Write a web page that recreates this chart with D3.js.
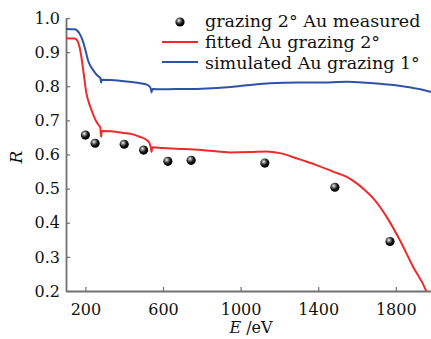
<!DOCTYPE html>
<html>
<head>
<meta charset="utf-8">
<script src="https://cdn.jsdelivr.net/npm/d3@7"></script>
<style>
  body { margin: 0; background: #fff; }
  svg { display: block; font-family: 'DejaVu Serif', serif; }
</style>
</head>
<body>
<svg class="chart"></svg>
<script>
//Data
const measuredE = [200, 250, 400, 500, 625, 745, 1125, 1486, 1770];
const measuredR = [0.657, 0.633, 0.630, 0.613, 0.580, 0.583, 0.575, 0.504, 0.345];

const fittedE = [100, 145, 158, 167, 179, 191, 205, 218, 231, 244, 257, 270, 277, 281, 284,
  330, 400, 445, 480, 514, 530, 538, 541, 545, 600, 669, 800, 900, 944, 1050, 1133, 1202,
  1288, 1391, 1476, 1545, 1597, 1640, 1683, 1752, 1820, 1889, 1958, 1975];
const fittedR = [0.941, 0.940, 0.934, 0.921, 0.887, 0.838, 0.780, 0.752, 0.731, 0.712, 0.696,
  0.685, 0.679, 0.652, 0.669, 0.668, 0.663, 0.659, 0.652, 0.643, 0.634, 0.618, 0.607, 0.621,
  0.619, 0.617, 0.613, 0.608, 0.606, 0.607, 0.609, 0.604, 0.589, 0.569, 0.550, 0.535, 0.516,
  0.496, 0.472, 0.418, 0.350, 0.271, 0.198, 0.170];

const simulatedE = [100, 145, 160, 172, 185, 196, 205, 213, 225, 239, 252, 265, 277, 281, 284,
  330, 400, 470, 510, 530, 538, 541, 545, 600, 700, 800, 950, 1050, 1150, 1300, 1400, 1550,
  1650, 1720, 1800, 1860, 1920, 1980, 2000];
const simulatedR = [0.968, 0.967, 0.962, 0.952, 0.935, 0.915, 0.895, 0.877, 0.861, 0.848,
  0.838, 0.830, 0.824, 0.811, 0.819, 0.818, 0.815, 0.810, 0.806, 0.800, 0.791, 0.782, 0.792,
  0.791, 0.792, 0.793, 0.798, 0.804, 0.809, 0.811, 0.811, 0.813, 0.810, 0.807, 0.803, 0.798,
  0.792, 0.784, 0.782];

const xTicks = [200, 600, 1000, 1400, 1800];
const yTicks = [0.2, 0.3, 0.4, 0.5, 0.6, 0.7, 0.8, 0.9, 1.0];

const legendLabels = ['grazing 2° Au measured', 'fitted Au grazing 2°', 'simulated Au grazing 1°'];

const width = 431;
const height = 339;
const axisColor = '#707070';
const red = '#ee2a2a';
const blue = '#2d52a8';

const svg = d3.select('.chart').attr('width', width).attr('height', height);

const x = d3.scaleLinear().domain([100, 2000]).range([66, 434.6]);
const y = d3.scaleLinear().domain([0.2, 1.0]).range([291, 18]);

//Sphere gradient for markers
const defs = svg.append('defs');
const grad = defs.append('radialGradient')
  .attr('id', 'ball')
  .attr('cx', '38%').attr('cy', '35%').attr('r', '65%');
grad.append('stop').attr('offset', '0%').attr('stop-color', '#ffffff');
grad.append('stop').attr('offset', '25%').attr('stop-color', '#8a8a8a');
grad.append('stop').attr('offset', '60%').attr('stop-color', '#161616');
grad.append('stop').attr('offset', '100%').attr('stop-color', '#000000');

defs.append('clipPath').attr('id', 'plot')
  .append('rect')
  .attr('x', 66).attr('y', 0)
  .attr('width', width - 66).attr('height', 291);

//Axes
const xAxis = svg.append('g')
  .attr('transform', 'translate(0,291)')
  .call(d3.axisBottom(x).tickValues(xTicks).tickSizeInner(-4).tickSizeOuter(0)
    .tickPadding(13).tickFormat(d3.format('d')));
const yAxis = svg.append('g')
  .attr('transform', 'translate(66,0)')
  .call(d3.axisLeft(y).tickValues(yTicks).tickSizeInner(-4).tickSizeOuter(0)
    .tickPadding(6).tickFormat(d3.format('.1f')));

[xAxis, yAxis].forEach(g => {
  g.select('.domain').attr('stroke', axisColor).attr('stroke-width', 1.8);
  g.selectAll('.tick line').attr('stroke', axisColor).attr('stroke-width', 1.2);
  g.selectAll('.tick text')
    .attr('fill', '#111')
    .style('font-family', "'DejaVu Serif', serif")
    .style('font-size', '16px');
});

//Axis titles
svg.append('text')
  .attr('transform', 'translate(22,157) rotate(-90)')
  .attr('text-anchor', 'middle')
  .style('font-size', '17px')
  .style('font-style', 'italic')
  .attr('fill', '#111')
  .text('R');

const xt = svg.append('text')
  .attr('x', 251).attr('y', 333)
  .attr('text-anchor', 'middle')
  .style('font-size', '16px')
  .attr('fill', '#111');
xt.append('tspan').style('font-style', 'italic').text('E');
xt.append('tspan').text(' /eV');

//Lines
const line = d3.line()
  .x(d => x(d[0]))
  .y(d => y(d[1]))
  .curve(d3.curveMonotoneX);

const plot = svg.append('g').attr('clip-path', 'url(#plot)');

plot.append('path')
  .datum(simulatedE.map((e, i) => [e, simulatedR[i]]))
  .attr('d', line)
  .attr('fill', 'none')
  .attr('stroke', blue)
  .attr('stroke-width', 2);

plot.append('path')
  .datum(fittedE.map((e, i) => [e, fittedR[i]]))
  .attr('d', line)
  .attr('fill', 'none')
  .attr('stroke', red)
  .attr('stroke-width', 2);

plot.selectAll('circle')
  .data(measuredE.map((e, i) => [e, measuredR[i]]))
  .enter()
  .append('circle')
  .attr('cx', d => x(d[0]))
  .attr('cy', d => y(d[1]))
  .attr('r', 4.6)
  .attr('fill', 'url(#ball)');

//Legend
const legend = svg.append('g');
legend.append('circle')
  .attr('cx', 180).attr('cy', 22).attr('r', 4.6)
  .attr('fill', 'url(#ball)');
legend.append('line')
  .attr('x1', 162).attr('x2', 198).attr('y1', 42).attr('y2', 42)
  .attr('stroke', red).attr('stroke-width', 2);
legend.append('line')
  .attr('x1', 162).attr('x2', 198).attr('y1', 62).attr('y2', 62)
  .attr('stroke', blue).attr('stroke-width', 2);
legend.selectAll('text')
  .data(legendLabels)
  .enter()
  .append('text')
  .attr('x', 205)
  .attr('y', (d, i) => 27 + i * 21)
  .style('font-size', '17.5px')
  .attr('fill', '#111')
  .text(d => d);
</script>
</body>
</html>
